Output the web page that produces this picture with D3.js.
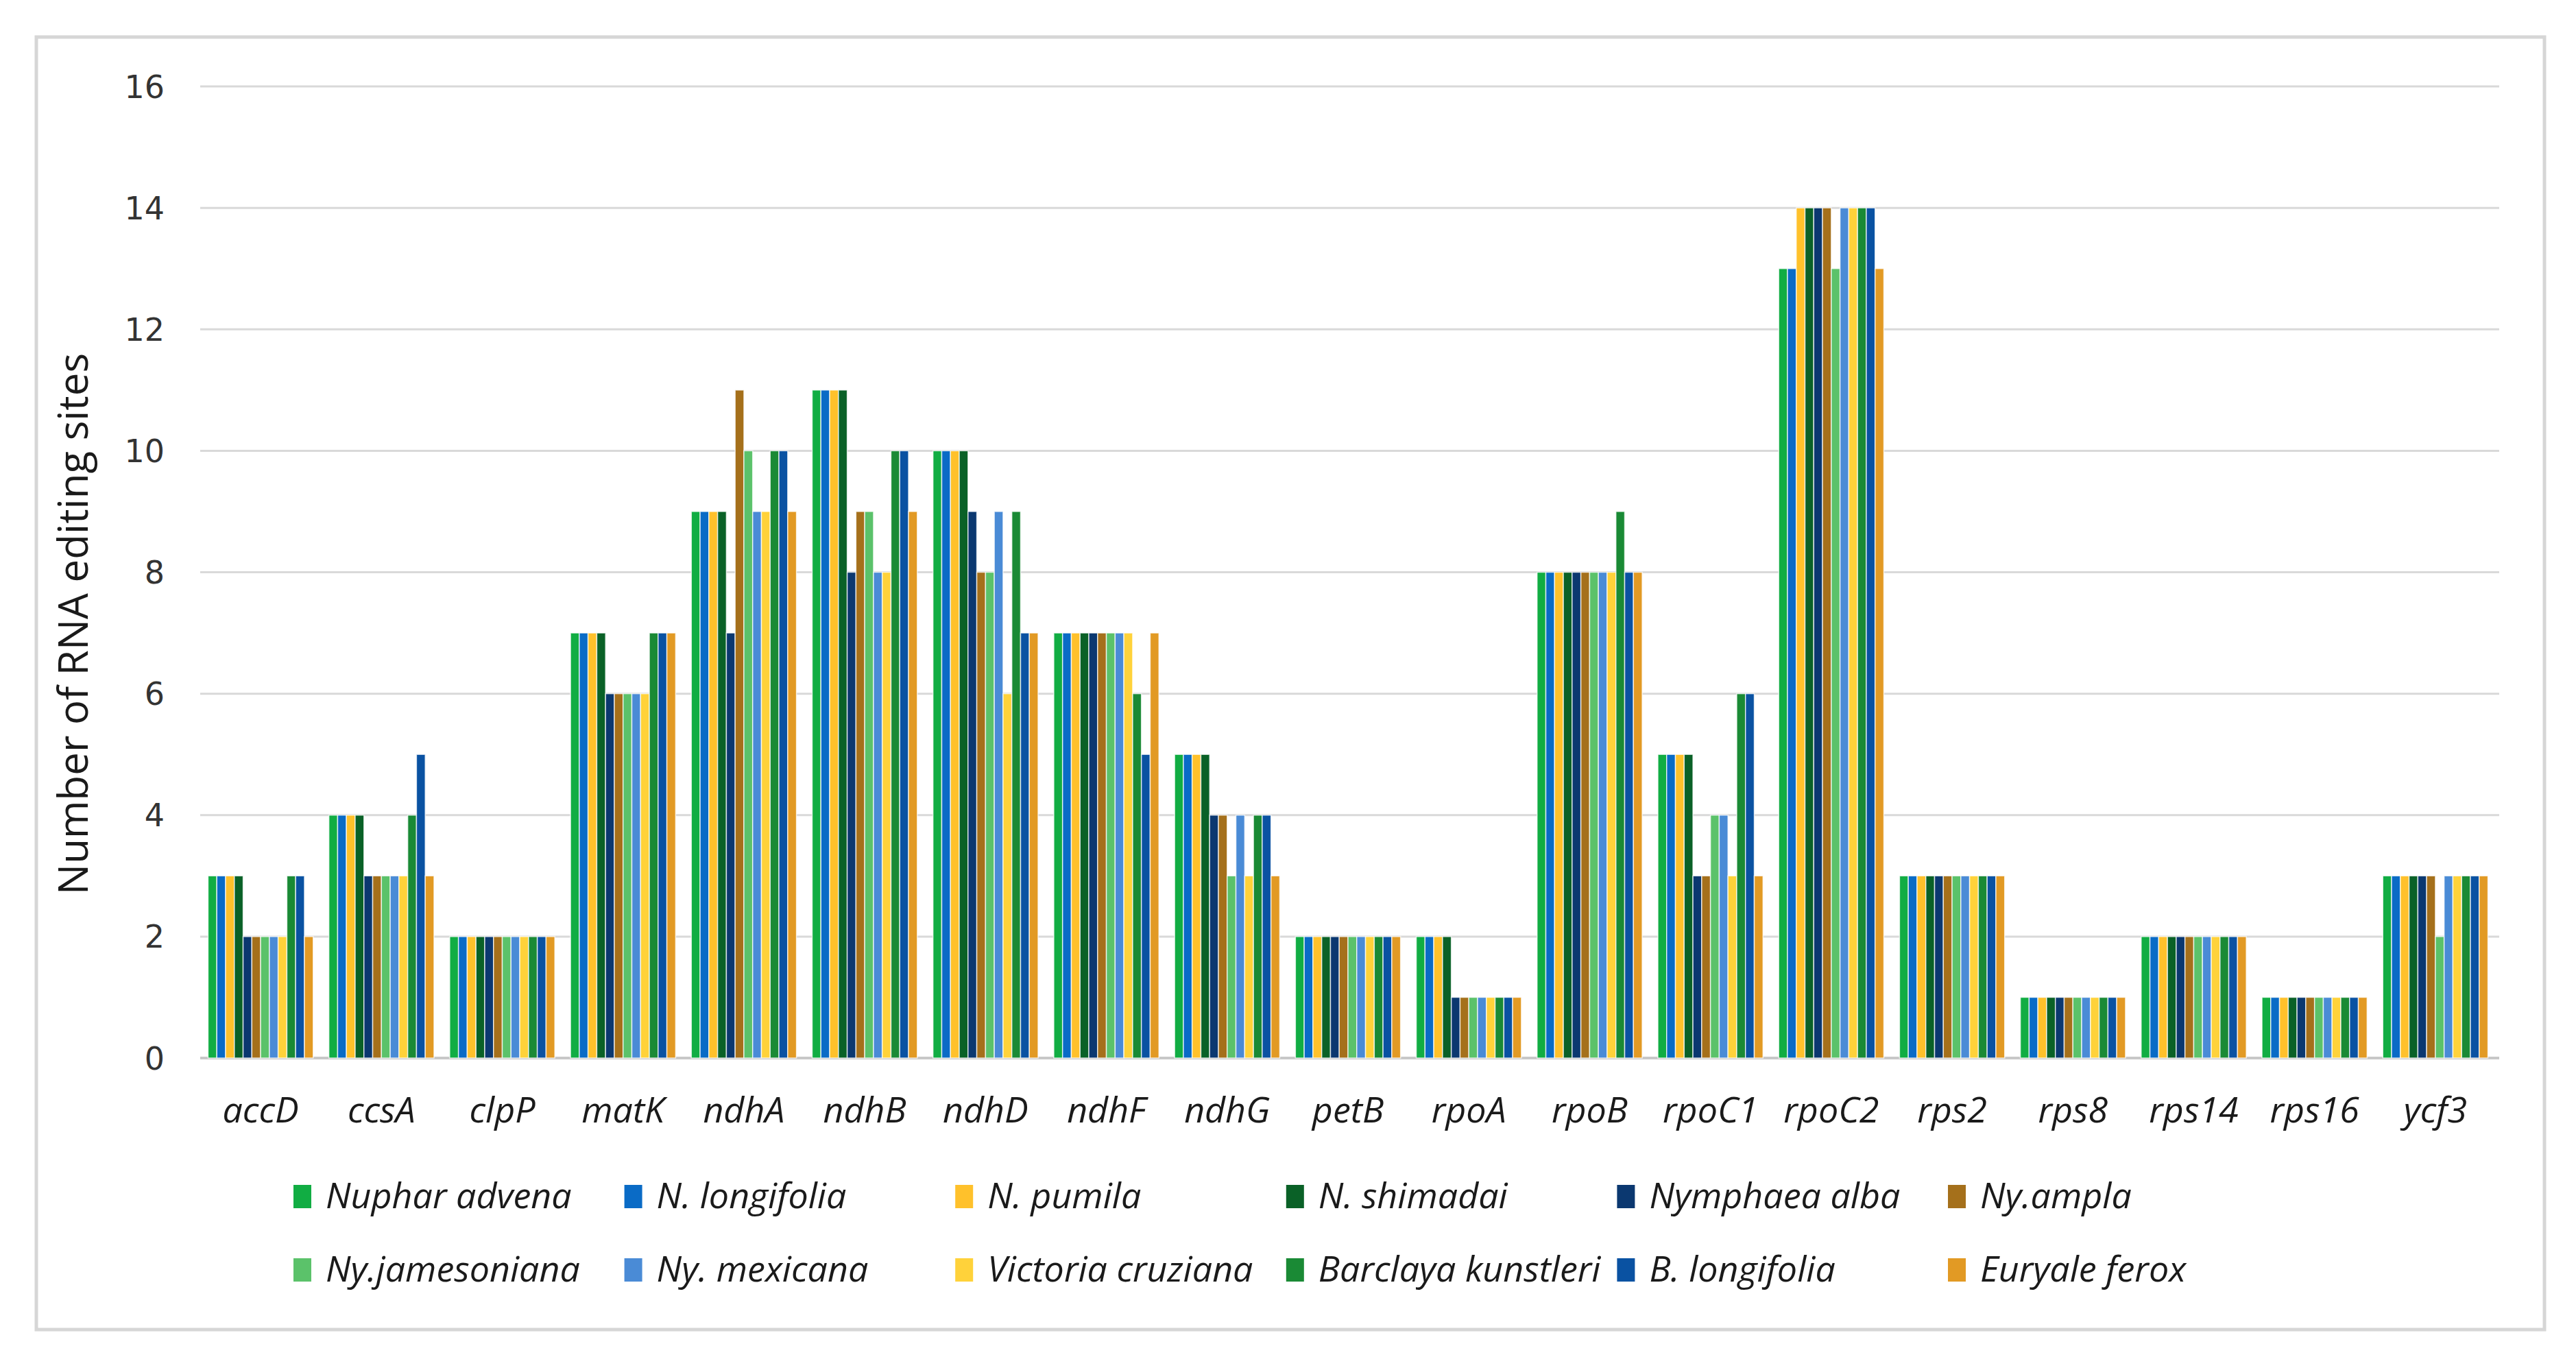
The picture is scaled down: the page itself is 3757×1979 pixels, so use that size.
<!DOCTYPE html>
<html>
<head>
<meta charset="utf-8">
<script src="https://cdn.jsdelivr.net/npm/d3@7"></script>
<style>
  html, body { margin: 0; padding: 0; background: #fff; }
  svg { display: block; }
</style>
</head>
<body>
<svg id="chart" width="3757" height="1979"></svg>
<script>
// genes on the x axis
const genes = ['accD','ccsA','clpP','matK','ndhA','ndhB','ndhD','ndhF','ndhG','petB',
               'rpoA','rpoB','rpoC1','rpoC2','rps2','rps8','rps14','rps16','ycf3'];

// species (legend order)
const species = ['Nuphar advena','N. longifolia','N. pumila','N. shimadai','Nymphaea alba','Ny.ampla',
                 'Ny.jamesoniana','Ny. mexicana','Victoria cruziana','Barclaya kunstleri','B. longifolia','Euryale ferox'];

const colors = ['#11ad43','#0a6bc6','#ffc12b','#0a6127','#0b3870','#a5701b',
                '#5bc26a','#4a8bd6','#ffd23a','#1a8a35','#0a52a2','#e29a24'];

// editing sites per gene, one value per species (same order as species)
const accD  = [3,3,3,3,2,2,2,2,2,3,3,2];
const ccsA  = [4,4,4,4,3,3,3,3,3,4,5,3];
const clpP  = [2,2,2,2,2,2,2,2,2,2,2,2];
const matK  = [7,7,7,7,6,6,6,6,6,7,7,7];
const ndhA  = [9,9,9,9,7,11,10,9,9,10,10,9];
const ndhB  = [11,11,11,11,8,9,9,8,8,10,10,9];
const ndhD  = [10,10,10,10,9,8,8,9,6,9,7,7];
const ndhF  = [7,7,7,7,7,7,7,7,7,6,5,7];
const ndhG  = [5,5,5,5,4,4,3,4,3,4,4,3];
const petB  = [2,2,2,2,2,2,2,2,2,2,2,2];
const rpoA  = [2,2,2,2,1,1,1,1,1,1,1,1];
const rpoB  = [8,8,8,8,8,8,8,8,8,9,8,8];
const rpoC1 = [5,5,5,5,3,3,4,4,3,6,6,3];
const rpoC2 = [13,13,14,14,14,14,13,14,14,14,14,13];
const rps2  = [3,3,3,3,3,3,3,3,3,3,3,3];
const rps8  = [1,1,1,1,1,1,1,1,1,1,1,1];
const rps14 = [2,2,2,2,2,2,2,2,2,2,2,2];
const rps16 = [1,1,1,1,1,1,1,1,1,1,1,1];
const ycf3  = [3,3,3,3,3,3,2,3,3,3,3,3];

const yTicks = [0,2,4,6,8,10,12,14,16];

const values = [accD,ccsA,clpP,matK,ndhA,ndhB,ndhD,ndhF,ndhG,petB,
                rpoA,rpoB,rpoC1,rpoC2,rps2,rps8,rps14,rps16,ycf3];

const svg = d3.select('#chart');

// outer frame
svg.append('rect')
  .attr('x',53).attr('y',54).attr('width',3658).attr('height',1885)
  .attr('fill','#fff').attr('stroke','#d6d6d6').attr('stroke-width',5);

const x0 = d3.scaleBand().domain(genes).range([292,3640]).paddingInner(0.13).paddingOuter(0.065);
const x1 = d3.scaleBand().domain(species).range([0,x0.bandwidth()]);
const y  = d3.scaleLinear().domain([0,16]).range([1543,126]);
const color = d3.scaleOrdinal().domain(species).range(colors);

// gridlines
svg.append('g').selectAll('line').data(yTicks).join('line')
  .attr('x1',292).attr('x2',3645)
  .attr('y1',d=>y(d)).attr('y2',d=>y(d))
  .attr('stroke',d=>d===0?'#c8c8c8':'#d9d9d9')
  .attr('stroke-width',d=>d===0?4:3);

// y tick labels
svg.append('g').selectAll('text').data(yTicks).join('text')
  .attr('x',240).attr('y',d=>y(d)).attr('dy','0.36em')
  .attr('text-anchor','end')
  .style('font-family','"DejaVu Sans", sans-serif').style('font-size','46px')
  .attr('fill','#333')
  .text(d=>d);

// bars
const groups = svg.append('g').selectAll('g').data(genes).join('g')
  .attr('transform',d=>`translate(${x0(d)},0)`);
groups.selectAll('rect').data((g,i)=>species.map((s,j)=>({s, v: values[i][j]}))).join('rect')
  .attr('x',d=>x1(d.s)).attr('width',x1.bandwidth())
  .attr('y',d=>y(d.v)).attr('height',d=>y(0)-y(d.v))
  .attr('fill',d=>color(d.s))
  .attr('stroke','#fff').attr('stroke-width',1.5).attr('stroke-opacity',0.75);

// x labels
svg.append('g').selectAll('text').data(genes).join('text')
  .attr('x',d=>x0(d)+x0.bandwidth()/2).attr('y',1637)
  .attr('text-anchor','middle')
  .style('font-family','"Open Sans", sans-serif').style('font-style','italic').style('font-size','52px')
  .attr('fill','#1a1a1a')
  .text(d=>d);

// y axis title
svg.append('text')
  .attr('transform','translate(128,910) rotate(-90)')
  .attr('text-anchor','middle')
  .style('font-family','"Open Sans", sans-serif').style('font-size','60px')
  .attr('fill','#1a1a1a')
  .text('Number of RNA editing sites');

// legend: 2 rows x 6 columns
const legend = svg.append('g').selectAll('g').data(species).join('g')
  .attr('transform',(d,i)=>`translate(${428 + (i%6)*482.6},${i<6?1728:1835})`);
legend.append('rect').attr('width',26).attr('height',34).attr('fill',d=>color(d));
legend.append('text').attr('x',47).attr('y',34)
  .style('font-family','"Open Sans", sans-serif').style('font-style','italic').style('font-size','52px')
  .attr('fill','#1a1a1a')
  .text(d=>d);
</script>
</body>
</html>
